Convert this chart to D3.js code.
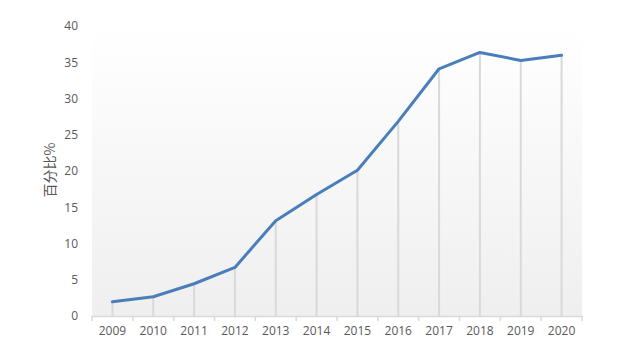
<!DOCTYPE html>
<html>
<head>
<meta charset="utf-8">
<script src="https://cdn.jsdelivr.net/npm/d3@7"></script>
<style>
  body { margin: 0; background: #fff; }
  svg text { font-family: "Open Sans", "Liberation Sans", sans-serif; }
</style>
</head>
<body>
<div id="chart"></div>
<script>
var width = 644,
    height = 354;

const years = ['2009', '2010', '2011', '2012', '2013', '2014', '2015', '2016', '2017', '2018', '2019', '2020'];
const percent = [1.95, 2.65, 4.45, 6.7, 13.15, 16.75, 20.1, 26.85, 34.1, 36.35, 35.25, 35.95];
const yTicks = [0, 5, 10, 15, 20, 25, 30, 35, 40];

var margin = {top: 26, right: 62, bottom: 38, left: 92};
var plotW = width - margin.left - margin.right,
    plotH = height - margin.top - margin.bottom;

var svg = d3.select('#chart').append('svg')
  .attr('width', width)
  .attr('height', height);

// plot area gradient, white at top to light grey at bottom
var grad = svg.append('defs').append('linearGradient')
  .attr('id', 'bg')
  .attr('x1', 0).attr('y1', 0).attr('x2', 0).attr('y2', 1);
grad.append('stop').attr('offset', '0%').attr('stop-color', '#ffffff');
grad.append('stop').attr('offset', '100%').attr('stop-color', '#efefef');

var g = svg.append('g')
  .attr('transform', 'translate(' + margin.left + ',' + margin.top + ')');

g.append('rect')
  .attr('width', plotW)
  .attr('height', plotH)
  .attr('fill', 'url(#bg)');

var x = d3.scaleBand().domain(years).range([0, plotW]);
var y = d3.scaleLinear().domain([0, 40]).range([plotH, 0]);

// drop lines
g.selectAll('.drop')
  .data(years)
  .enter().append('line')
  .attr('x1', d => x(d) + x.bandwidth() / 2)
  .attr('x2', d => x(d) + x.bandwidth() / 2)
  .attr('y1', (d, i) => y(percent[i]))
  .attr('y2', plotH)
  .attr('stroke', '#d9d9d9')
  .attr('stroke-width', 2);

// x axis
var xAxis = g.append('g')
  .attr('transform', 'translate(0,' + plotH + ')')
  .call(d3.axisBottom(x).tickSize(0).tickPadding(10));
xAxis.select('.domain').attr('stroke', '#d9d9d9').attr('stroke-width', 1.5);
xAxis.selectAll('text').attr('fill', '#595959').style('font-size', '12px');

// ticks at band boundaries
g.selectAll('.xtick')
  .data(d3.range(years.length + 1))
  .enter().append('line')
  .attr('x1', i => i * x.step())
  .attr('x2', i => i * x.step())
  .attr('y1', plotH)
  .attr('y2', plotH + 5)
  .attr('stroke', '#d9d9d9')
  .attr('stroke-width', 1.5);

// y axis
var yAxis = g.append('g')
  .call(d3.axisLeft(y).tickValues(yTicks).tickSize(0).tickPadding(14));
yAxis.select('.domain').remove();
yAxis.selectAll('text').attr('fill', '#595959').style('font-size', '12px');

svg.append('text')
  .attr('transform', 'translate(55,170) rotate(-90)')
  .attr('text-anchor', 'middle')
  .attr('fill', '#595959')
  .style('font-size', '14px')
  .style('font-family', '"Noto Sans CJK SC", sans-serif')
  .text('百分比%');

// line
var line = d3.line()
  .x((d, i) => x(years[i]) + x.bandwidth() / 2)
  .y(d => y(d));

g.append('path')
  .datum(percent)
  .attr('d', line)
  .attr('fill', 'none')
  .attr('stroke', '#4a7ebb')
  .attr('stroke-width', 3)
  .attr('stroke-linejoin', 'round')
  .attr('stroke-linecap', 'round');
</script>
</body>
</html>
